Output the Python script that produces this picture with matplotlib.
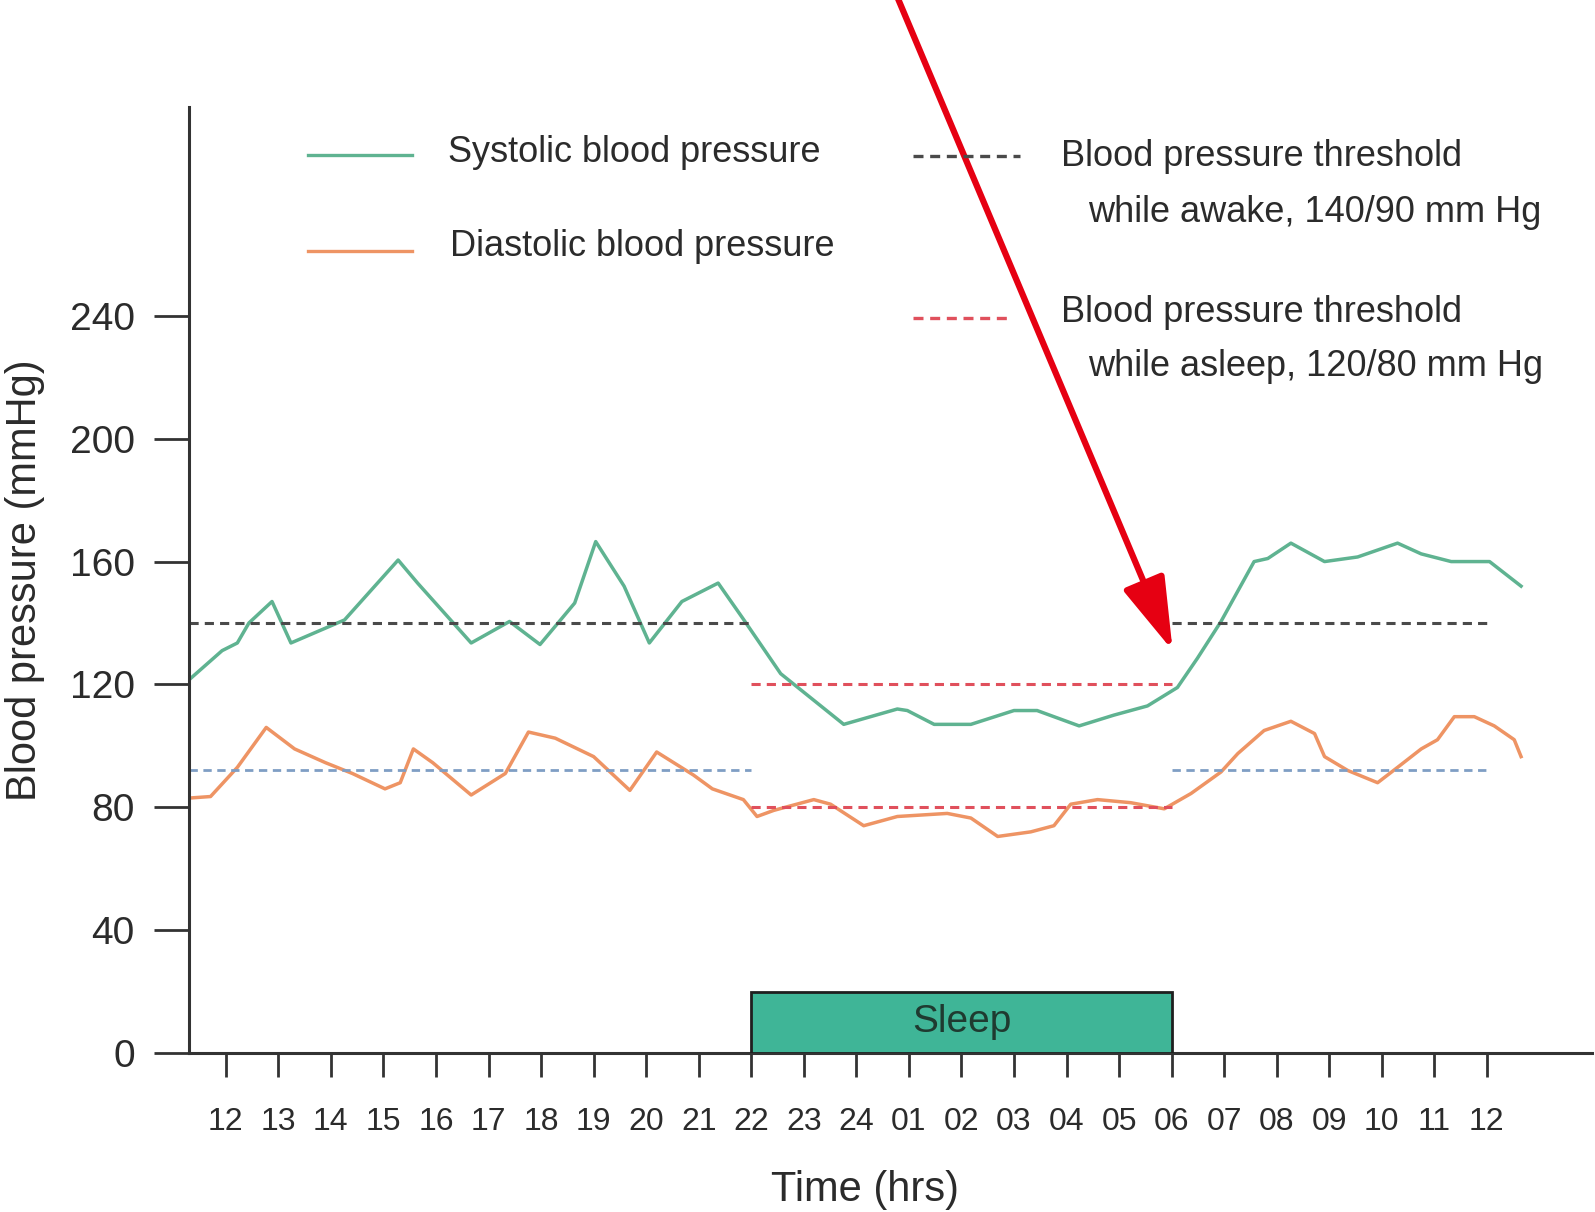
import matplotlib
matplotlib.use("Agg")
import matplotlib.pyplot as plt
from matplotlib.patches import Rectangle
from matplotlib.lines import Line2D

# time is in hours after 12:00 on the first day
systolic_hours = [-0.7, -0.07, 0.22, 0.44, 0.88, 1.24, 2.26, 3.28, 3.65, 4.67, 5.4, 5.98,
                  6.64, 7.04, 7.58, 8.06, 8.68, 9.37, 9.84, 10.56, 11.76, 12.78, 12.97,
                  13.48, 14.18, 15.0, 15.44, 16.24, 16.9, 17.54, 18.11, 18.49, 18.94,
                  19.57, 19.83, 20.27, 20.91, 21.54, 22.3, 22.75, 23.32, 24.05, 24.65]
systolic_values = [121.5, 131, 133.5, 140, 147, 133.5, 141, 160.5, 153, 133.5, 140.5, 133,
                   146.5, 166.5, 152, 133.5, 147, 153, 141.5, 123.5, 107, 112, 111.5,
                   107, 107, 111.5, 111.5, 106.5, 110, 113, 119, 128.5, 140.5,
                   160, 161, 166, 160, 161.5, 166, 162.5, 160, 160, 152]

diastolic_hours = [-0.7, -0.29, 0.22, 0.77, 1.31, 1.9, 2.41, 3.03, 3.32, 3.57, 3.94, 4.67,
                   5.32, 5.76, 6.27, 7.0, 7.69, 8.2, 8.9, 9.26, 9.85, 10.11, 10.43, 11.19,
                   11.51, 12.14, 12.78, 13.73, 14.18, 14.69, 15.32, 15.76, 16.08, 16.59,
                   17.22, 17.86, 18.37, 18.94, 19.26, 19.76, 20.27, 20.72, 20.91, 21.35,
                   21.92, 22.3, 22.75, 23.06, 23.38, 23.76, 24.14, 24.52, 24.65]
diastolic_values = [83, 83.5, 93, 106, 99, 94.5, 91, 86, 88, 99, 94.5, 84,
                    91, 104.5, 102.5, 96.5, 85.5, 98, 90.5, 86, 82.5, 77, 79, 82.5,
                    81, 74, 77, 78, 76.5, 70.5, 72, 74, 81, 82.5,
                    81.5, 79.5, 84.5, 91.5, 97.5, 105, 108, 104, 96.5, 92,
                    88, 93, 99, 102, 109.5, 109.5, 106.5, 102, 96.5]

tick_labels = ["12", "13", "14", "15", "16", "17", "18", "19", "20", "21", "22", "23", "24",
               "01", "02", "03", "04", "05", "06", "07", "08", "09", "10", "11", "12"]
y_ticks = [0, 40, 80, 120, 160, 200, 240]

awake_periods = [(-0.7, 10), (18, 24)]
sleep_period = (10, 18)
awake_threshold = (140, 92)
asleep_threshold = (120, 80)
sleep_bar_height = 20

W, H = 1595, 1212
FONT = ["Liberation Sans", "DejaVu Sans"]
TEXT = "#2b2b2b"
SYS_COLOR = "#5fb391"
DIA_COLOR = "#ee9464"
AWAKE_SYS = "#4a4a4a"
AWAKE_DIA = "#7f9ec4"
ASLEEP = "#e0505c"

plt.rcParams["font.family"] = FONT


def px(x, y):
    # pixel position on the figure -> figure fraction
    return x / W, 1 - y / H


fig = plt.figure(figsize=(W / 100, H / 100), dpi=100)
ax = fig.add_axes([189 / W, 1 - 1053 / H, 1403 / W, 946 / H])

ax.plot(systolic_hours, systolic_values, color=SYS_COLOR, lw=2.5)
ax.plot(diastolic_hours, diastolic_values, color=DIA_COLOR, lw=2.5)

for start, end in awake_periods:
    ax.plot([start, end], [awake_threshold[0]] * 2, color=AWAKE_SYS, lw=2.2, dashes=(3, 2))
    ax.plot([start, end], [awake_threshold[1]] * 2, color=AWAKE_DIA, lw=2, dashes=(3, 2))
for val in asleep_threshold:
    ax.plot(sleep_period, [val] * 2, color=ASLEEP, lw=2.2, dashes=(3, 2))

# sleep bar
ax.add_patch(Rectangle((sleep_period[0], 0), sleep_period[1] - sleep_period[0], sleep_bar_height,
                       facecolor="#3fb597", edgecolor="#1f1f1f", lw=2, zorder=3))
ax.text(sum(sleep_period) / 2, sleep_bar_height / 2, "Sleep", ha="center", va="center",
        fontsize=28, color="#1f3a30", zorder=4)

ax.set_xlim(-0.7, 26.0)
ax.set_ylim(0, 308)
ax.set_xticks(range(len(tick_labels)))
ax.set_xticklabels(tick_labels, fontsize=23, color=TEXT)
ax.set_yticks(y_ticks)
ax.set_yticklabels([str(v) for v in y_ticks], fontsize=28, color=TEXT)
ax.tick_params(axis="x", length=17, width=2, color="#333333", pad=22)
ax.tick_params(axis="y", length=25, width=2, color="#333333", pad=14)
for side in ["top", "right"]:
    ax.spines[side].set_visible(False)
for side in ["left", "bottom"]:
    ax.spines[side].set_linewidth(2.2)
    ax.spines[side].set_color("#333333")

# red arrow pointing at the morning surge
ax.annotate("", xy=(18.02, 131), xytext=(12.75, 345), annotation_clip=False,
            arrowprops=dict(arrowstyle="-|>,head_length=1.5,head_width=0.45",
                            mutation_scale=30, color="#e60012", lw=4.5, shrinkA=0, shrinkB=0))

# legend drawn by hand
def sample(x0, x1, y, color, dashed=False):
    a, b = px(x0, y), px(x1, y)
    ln = Line2D([a[0], b[0]], [a[1], b[1]], transform=fig.transFigure, color=color, lw=2.4)
    if dashed:
        ln.set_dashes((3, 2))
    fig.add_artist(ln)

sample(308, 412, 155, SYS_COLOR)
sample(308, 412, 251, DIA_COLOR)
sample(913, 1020, 156, AWAKE_SYS, dashed=True)
sample(913, 1012, 318, ASLEEP, dashed=True)

legend_texts = [
    (448, 153, "Systolic blood pressure"),
    (450, 246, "Diastolic blood pressure"),
    (1061, 156, "Blood pressure threshold"),
    (1088, 212, "while awake, 140/90 mm Hg"),
    (1061, 312, "Blood pressure threshold"),
    (1088, 366, "while asleep, 120/80 mm Hg"),
]
for x, y, s in legend_texts:
    fig.text(*px(x, y), s, ha="left", va="center", fontsize=26, color=TEXT)

fig.text(*px(25, 580), "Blood pressure (mmHg)", rotation=90, ha="center", va="center",
         fontsize=30, color=TEXT)
fig.text(*px(865, 1190), "Time (hrs)", ha="center", va="center",
         fontsize=30, color=TEXT)

fig.savefig("out.png", dpi=100)
